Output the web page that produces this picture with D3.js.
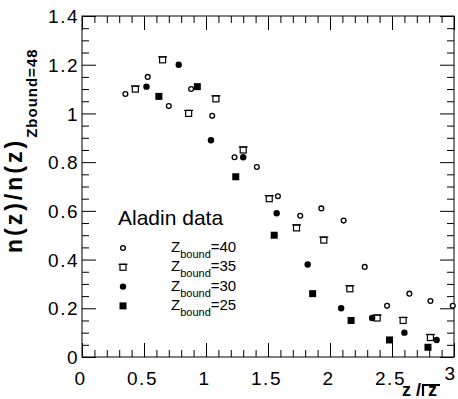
<!DOCTYPE html>
<html>
<head>
<meta charset="utf-8">
<script src="https://cdn.jsdelivr.net/npm/d3@7"></script>
<style>
  body { margin: 0; background: #fff; }
  svg { display: block; font-family: "Liberation Sans", Arial, sans-serif; }
</style>
</head>
<body>
<svg id="chart" width="458" height="399"></svg>
<script>
// Aladin data, n(z)/n(z) normalised to Zbound=48
const xs40 = [0.35, 0.53, 0.70, 0.88, 1.05, 1.23, 1.41, 1.58, 1.76, 1.93, 2.11, 2.28, 2.46, 2.64, 2.81, 2.99];
const ys40 = [1.08, 1.15, 1.03, 1.10, 0.99, 0.82, 0.78, 0.66, 0.58, 0.61, 0.56, 0.37, 0.21, 0.26, 0.23, 0.21];
const xs35 = [0.43, 0.65, 0.86, 1.08, 1.30, 1.51, 1.73, 1.95, 2.16, 2.38, 2.59, 2.81];
const ys35 = [1.10, 1.22, 1.00, 1.06, 0.85, 0.65, 0.53, 0.48, 0.28, 0.16, 0.15, 0.08];
const xs30 = [0.52, 0.78, 1.04, 1.30, 1.57, 1.82, 2.09, 2.34, 2.60, 2.86];
const ys30 = [1.11, 1.20, 0.89, 0.82, 0.59, 0.38, 0.20, 0.16, 0.10, 0.07];
const xs25 = [0.62, 0.93, 1.24, 1.55, 1.86, 2.17, 2.48, 2.79];
const ys25 = [1.07, 1.11, 0.74, 0.50, 0.26, 0.15, 0.07, 0.04];

const legendLabels = ['40', '35', '30', '25'];
const xTickLabels = [0, 0.5, 1, 1.5, 2, 2.5, 3];
const yTickLabels = [0, 0.2, 0.4, 0.6, 0.8, 1, 1.2, 1.4];

const margin = { left: 82, right: 4, top: 16, bottom: 42 };
const W = 458, H = 399;

const svg = d3.select('#chart');
const x = d3.scaleLinear().domain([0, 3]).range([margin.left, W - margin.right]);
const y = d3.scaleLinear().domain([0, 1.4]).range([H - margin.bottom, margin.top]);

const xMinor = d3.range(0, 31).map(d => d / 10).filter(d => !xTickLabels.some(t => Math.abs(t - d) < 1e-6));
const yMinor = d3.range(0, 29).map(d => d / 20).filter(d => !yTickLabels.some(t => Math.abs(t - d) < 1e-6));

function tickGroup(axis, transform) {
  const g = svg.append('g').attr('transform', transform).call(axis);
  g.select('.domain').remove();
  g.selectAll('line').attr('stroke', '#000').attr('stroke-width', 1);
  return g;
}

// bottom & top ticks
tickGroup(d3.axisBottom(x).tickValues(xMinor).tickSize(-7).tickFormat(''), `translate(0,${y(0)})`);
tickGroup(d3.axisTop(x).tickValues(xMinor).tickSize(-7).tickFormat(''), `translate(0,${y(1.4)})`);
tickGroup(d3.axisTop(x).tickValues(xTickLabels).tickSize(-14).tickFormat(''), `translate(0,${y(1.4)})`);
const xg = tickGroup(d3.axisBottom(x).tickValues(xTickLabels).tickSize(-14).tickFormat(d3.format('')), `translate(0,${y(0)})`);
xg.selectAll('text')
  .attr('y', 28).attr('dy', 0)
  .attr('dx', -2)
  .attr('fill', '#000')
  .style('font-size', '19px')
  .style('letter-spacing', '1.5px');
xg.selectAll('.tick').filter(d => d === 3).select('text').attr('y', 23).attr('dx', -4);

// left & right ticks
tickGroup(d3.axisLeft(y).tickValues(yMinor).tickSize(-7).tickFormat(''), `translate(${x(0)},0)`);
tickGroup(d3.axisRight(y).tickValues(yMinor).tickSize(-7).tickFormat(''), `translate(${x(3)},0)`);
tickGroup(d3.axisRight(y).tickValues(yTickLabels).tickSize(-14).tickFormat(''), `translate(${x(3)},0)`);
const yg = tickGroup(d3.axisLeft(y).tickValues(yTickLabels).tickSize(-14).tickFormat(d3.format('')), `translate(${x(0)},0)`);
yg.selectAll('text')
  .attr('x', -3).attr('dy', '0.35em')
  .attr('fill', '#000')
  .style('font-size', '19px')
  .style('letter-spacing', '1.5px');

// frame
svg.append('rect')
  .attr('x', x(0)).attr('y', y(1.4))
  .attr('width', x(3) - x(0)).attr('height', y(0) - y(1.4))
  .attr('fill', 'none').attr('stroke', '#000').attr('stroke-width', 1);

// markers
function openCircle(g, cx, cy) {
  g.append('circle').attr('cx', cx).attr('cy', cy).attr('r', 2.4)
    .attr('fill', '#fff').attr('stroke', '#000').attr('stroke-width', 1.3);
}
function openSquare(g, cx, cy) {
  g.append('rect').attr('x', cx - 3).attr('y', cy - 3).attr('width', 6).attr('height', 6)
    .attr('fill', '#fff').attr('stroke', '#000').attr('stroke-width', 1.2);
  g.append('line').attr('x1', cx - 4.5).attr('x2', cx + 4.5).attr('y1', cy - 3).attr('y2', cy - 3)
    .attr('stroke', '#000').attr('stroke-width', 1.2);
}
function fullCircle(g, cx, cy) {
  g.append('circle').attr('cx', cx).attr('cy', cy).attr('r', 3.2).attr('fill', '#000');
}
function fullSquare(g, cx, cy) {
  g.append('rect').attr('x', cx - 3.5).attr('y', cy - 3.5).attr('width', 7).attr('height', 7).attr('fill', '#000');
}

const series = [
  { xs: xs40, ys: ys40, draw: openCircle },
  { xs: xs35, ys: ys35, draw: openSquare },
  { xs: xs30, ys: ys30, draw: fullCircle },
  { xs: xs25, ys: ys25, draw: fullSquare },
];
const pts = svg.append('g');
series.forEach(s => {
  s.xs.forEach((xv, i) => s.draw(pts, x(xv), y(s.ys[i])));
});

// legend
svg.append('text').attr('x', 118).attr('y', 225)
  .style('font-size', '21px').attr('fill', '#000').text('Aladin data');
const leg = svg.append('g');
legendLabels.forEach((lab, i) => {
  const cy = 248 + i * 19.3;
  series[i].draw(leg, 123, cy);
  const t = leg.append('text').attr('x', 171).attr('y', cy + 4).attr('fill', '#000').style('font-size', '15px');
  t.append('tspan').text('Z');
  t.append('tspan').attr('dy', 6).style('font-size', '11px').text('bound');
  t.append('tspan').attr('dy', -6).text('=' + lab);
});

// y title
const yt = svg.append('text')
  .attr('transform', 'translate(22,253) rotate(-90)')
  .attr('fill', '#000').style('font-weight', 'bold');
yt.append('tspan').style('font-size', '23px').style('letter-spacing', '3px').text('n(z)/n(z)');
yt.append('tspan').attr('dy', 15).style('font-size', '15px').style('letter-spacing', '1px').text('Zbound=48');

// x title: z / z-bar
const xt = svg.append('g').attr('fill', '#000').style('font-weight', 'bold').style('font-size', '18px');
xt.append('text').attr('x', 402).attr('y', 396).text('z /');
xt.append('text').attr('x', 428).attr('y', 396).text('z');
xt.append('path').attr('d', 'M423,396 V385 H440').attr('fill', 'none').attr('stroke', '#000').attr('stroke-width', 2.2);
</script>
</body>
</html>
